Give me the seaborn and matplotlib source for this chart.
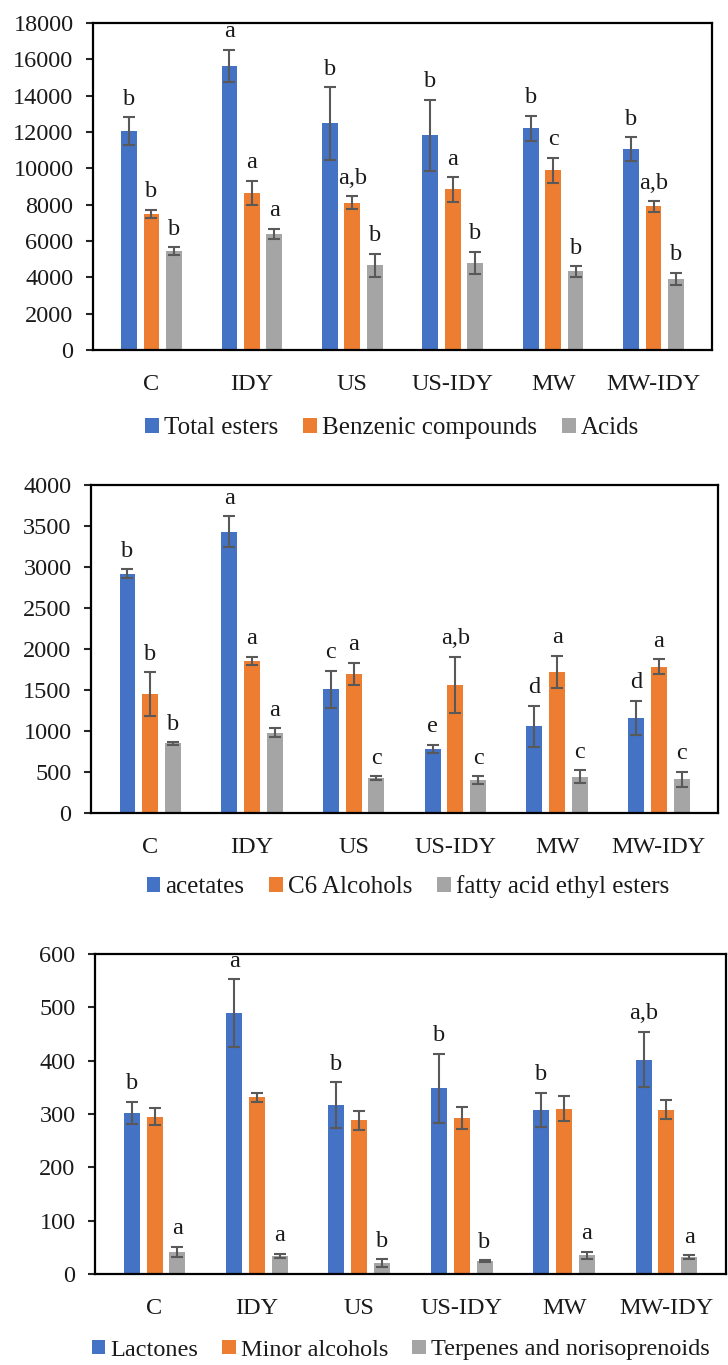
import pandas as pd
import matplotlib
matplotlib.use("Agg")
import matplotlib.pyplot as plt
import seaborn as sns

# Treatments (x axis)
groups = ["C", "IDY", "US", "US-IDY", "MW", "MW-IDY"]

# Panel 1
p1_series = ["Total esters", "Benzenic compounds", "Acids"]
total_esters = [12050, 15650, 12470, 11820, 12210, 11070]
total_esters_err = [750, 880, 2000, 1950, 680, 650]
benzenic = [7500, 8640, 8100, 8840, 9890, 7900]
benzenic_err = [230, 680, 350, 680, 680, 280]
acids = [5430, 6390, 4660, 4790, 4330, 3920]
acids_err = [220, 290, 630, 620, 290, 320]
total_esters_let = ["b", "a", "b", "b", "b", "b"]
benzenic_let = ["b", "a", "a,b", "a", "c", "a,b"]
acids_let = ["b", "a", "b", "b", "b", "b"]

# Panel 2
p2_series = ["acetates", "C6 Alcohols", "fatty acid ethyl esters"]
acetates = [2920, 3430, 1510, 780, 1060, 1160]
acetates_err = [50, 190, 225, 50, 250, 210]
c6_alcohols = [1450, 1855, 1700, 1565, 1725, 1785]
c6_alcohols_err = [265, 50, 135, 340, 195, 90]
faee = [850, 980, 425, 400, 445, 413]
faee_err = [15, 55, 25, 48, 75, 92]
acetates_let = ["b", "a", "c", "e", "d", "d"]
c6_alcohols_let = ["b", "a", "a", "a,b", "a", "a"]
faee_let = ["b", "a", "c", "c", "c", "c"]

# Panel 3
p3_series = ["Lactones", "Minor alcohols", "Terpenes and norisoprenoids"]
lactones = [302, 489, 317, 348, 308, 402]
lactones_err = [21, 64, 43, 65, 32, 52]
minor_alcohols = [295, 331, 288, 293, 310, 308]
minor_alcohols_err = [16, 9, 18, 21, 23, 18]
terpenes = [41, 34, 21, 24, 35, 32]
terpenes_err = [10, 4, 7, 2, 7, 3]
lactones_let = ["b", "a", "b", "b", "b", "a,b"]
minor_alcohols_let = ["", "", "", "", "", ""]
terpenes_let = ["a", "a", "b", "b", "a", "a"]

colors = ["#4472C4", "#ED7D31", "#A5A5A5"]

sns.set_theme(style="white")
plt.rcParams["font.family"] = ["Liberation Serif", "DejaVu Serif"]

fig = plt.figure(figsize=(7.28, 13.65), dpi=100)
W, H = 728, 1365


def panel(box, series, values, errs, letters, ymax, ystep, leg_pos, leg_loc, leg_size=18):
    l, t, r, b = box
    ax = fig.add_axes([l / W, 1 - b / H, (r - l) / W, (b - t) / H])
    df = pd.DataFrame({
        "group": groups * len(series),
        "series": [s for s in series for _ in groups],
        "value": [v for vals in values for v in vals],
    })
    sns.barplot(data=df, x="group", y="value", hue="series", palette=colors,
                saturation=1, width=0.67, gap=0.3, errorbar=None,
                linewidth=0, ax=ax)
    for cont, err, lets in zip(ax.containers, errs, letters):
        xs = [bar.get_x() + bar.get_width() / 2 for bar in cont]
        ys = [bar.get_height() for bar in cont]
        ax.errorbar(xs, ys, yerr=err, fmt="none", ecolor="#595959",
                    elinewidth=1.5, capsize=4.5, capthick=1.5, zorder=3)
        for x, y, e, s in zip(xs, ys, err, lets):
            if s:
                ax.annotate(s, (x, y + e), xytext=(0, 9), textcoords="offset points",
                            ha="center", va="baseline", fontsize=17.5, color="#1a1a1a")
    ax.set_ylim(0, ymax)
    ax.set_yticks(range(0, ymax + 1, ystep))
    ax.set_xlabel("")
    ax.set_ylabel("")
    for sp in ax.spines.values():
        sp.set_visible(True)
        sp.set_color("black")
        sp.set_linewidth(1.6)
    ax.tick_params(axis="y", left=True, length=5, width=1.5, pad=9,
                   labelsize=17.5, labelcolor="#1a1a1a")
    ax.tick_params(axis="x", bottom=False, pad=11, labelsize=17.5, labelcolor="#1a1a1a")
    handles, labels = ax.get_legend_handles_labels()
    ax.get_legend().remove()
    fig.legend(handles, labels, loc=leg_loc, bbox_to_anchor=leg_pos, ncol=3,
               frameon=False, fontsize=leg_size, handlelength=0.55, handleheight=0.55,
               handletextpad=0.2, columnspacing=1.0, borderpad=0, borderaxespad=0,
               labelcolor="#1a1a1a")
    return ax


panel((93, 23, 712, 350), p1_series,
      [total_esters, benzenic, acids],
      [total_esters_err, benzenic_err, acids_err],
      [total_esters_let, benzenic_let, acids_let],
      18000, 2000, (392 / W, 1 - 428 / H), "center")

panel((91, 485, 718, 813), p2_series,
      [acetates, c6_alcohols, faee],
      [acetates_err, c6_alcohols_err, faee_err],
      [acetates_let, c6_alcohols_let, faee_let],
      4000, 500, (408 / W, 1 - 887 / H), "center")

panel((95, 954, 726, 1274), p3_series,
      [lactones, minor_alcohols, terpenes],
      [lactones_err, minor_alcohols_err, terpenes_err],
      [lactones_let, minor_alcohols_let, terpenes_let],
      600, 100, (92 / W, 1 - 1350 / H), "center left", leg_size=17.5)

fig.savefig("out.png", dpi=100)
